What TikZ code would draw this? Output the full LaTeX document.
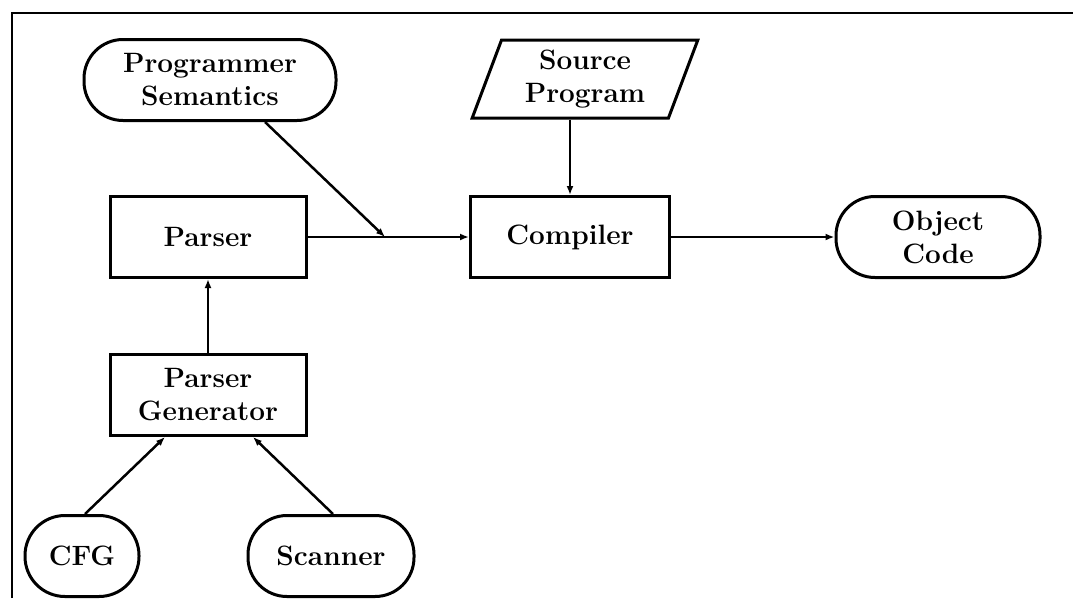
\documentclass[tikz,border=0pt]{standalone}
\usetikzlibrary{shapes.geometric,arrows.meta}
\begin{document}
\begin{tikzpicture}[x=1pt,y=-1pt,
  every node/.style={font=\fontsize{28}{33}\selectfont\bfseries, align=center, line width=3pt, inner sep=0pt},
  procbox/.style={draw, rectangle, minimum width=196pt, minimum height=81pt},
  termbox/.style={draw, rectangle, rounded corners=39pt, minimum height=81pt},
  iobox/.style={draw, trapezium, trapezium left angle=70, trapezium right angle=110,
    trapezium stretches=true, minimum width=226pt, minimum height=78pt},
  flow/.style={line width=2.5pt, -{Latex[length=9pt,width=7pt]}}]
  \useasboundingbox (0,0) rectangle (1073,598);
  % outer frame
  \draw[line width=2.6pt] (12,598) -- (12,13) -- (1073,13);

  \node[termbox, minimum width=252pt] (sem) at (210,80) {Programmer\\Semantics};
  \node[iobox] (src) at (585,79) {Source\\Program};
  \node[procbox] (parser) at (208,237) {Parser};
  \node[procbox, minimum width=199pt] (comp) at (570,237) {Compiler};
  \node[termbox, minimum width=204pt] (obj) at (938,237) {Object\\Code};
  \node[procbox] (gen) at (208,395) {Parser\\Generator};
  \node[termbox, minimum width=114pt, rounded corners=40pt] (cfg) at (82,556) {CFG};
  \node[termbox, minimum width=166pt] (scan) at (331,556) {Scanner};

  \coordinate (join) at (385,237);
  \draw[flow] (parser) -- (comp);
  \draw[flow] (sem.south -| 265,0) -- (join);
  \draw[flow] (src.south -| comp.north) -- (comp.north);
  \draw[flow] (comp) -- (obj);
  \draw[flow] (gen) -- (parser);
  \draw[flow] (cfg.north -| 85,0) -- (gen.south -| 165,0);
  \draw[flow] (scan.north -| 333,0) -- (gen.south -| 253,0);
\end{tikzpicture}
\end{document}
